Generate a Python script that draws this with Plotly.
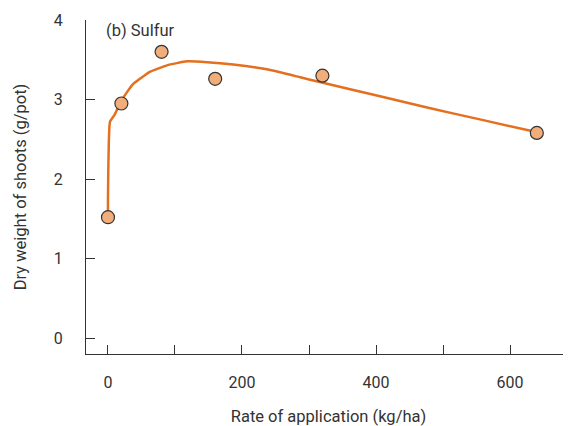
import plotly.graph_objects as go

# Observed data points
rate = [0, 20, 80, 160, 320, 640]
weight = [1.52, 2.95, 3.60, 3.26, 3.30, 2.58]

# Fitted curve
curve_x = [0, 0, 3, 10, 21, 37, 63, 88, 118, 148, 187, 237, 287, 316, 406, 481, 555, 634]
curve_y = [1.55, 1.74, 2.72, 2.81, 3.00, 3.19, 3.35, 3.43, 3.48, 3.47, 3.44, 3.38, 3.28, 3.22, 3.04, 2.89, 2.75, 2.60]

x_tickvals = [0, 100, 200, 300, 400, 500, 600]
x_ticktext = ["0", "", "200", "", "400", "", "600"]
y_tickvals = [0, 1, 2, 3, 4]

font_family = "Roboto, 'Open Sans', sans-serif"

fig = go.Figure()
fig.add_trace(go.Scatter(x=curve_x, y=curve_y, mode="lines",
                         line=dict(color="#E46F1E", width=2.5, shape="spline", smoothing=0.4),
                         hoverinfo="skip", showlegend=False))
fig.add_trace(go.Scatter(x=rate, y=weight, mode="markers",
                         marker=dict(size=13, color="#F2AE7A", line=dict(color="#333333", width=1.2)),
                         showlegend=False))

# page body adds an 8px offset; size the figure so the plot area lands where the reference has it
fig.update_layout(
    width=563, height=418,
    margin=dict(l=78, r=0, t=12, b=72),
    paper_bgcolor="white", plot_bgcolor="white",
    font=dict(family=font_family, size=16.5, color="#333333"),
    xaxis=dict(range=[-32.8, 691], tickvals=x_tickvals, ticktext=x_ticktext,
               ticks="inside", ticklen=9, tickcolor="#333333", tickwidth=1,
               showline=True, linecolor="#333333", linewidth=1.2,
               showgrid=False, zeroline=False, ticklabelstandoff=14,
               title=dict(text="Rate of application (kg/ha)", standoff=20, font=dict(size=16.5)),
               tickfont=dict(size=16)),
    yaxis=dict(range=[-0.2, 4], tickvals=y_tickvals,
               ticks="inside", ticklen=9, tickcolor="#333333", tickwidth=1,
               showline=True, linecolor="#333333", linewidth=1.2,
               showgrid=False, zeroline=False, ticklabelstandoff=19,
               title=dict(text="Dry weight of shoots (g/pot)", standoff=22, font=dict(size=16.5)),
               tickfont=dict(size=16)),
    annotations=[dict(text="(b) Sulfur", xref="paper", yref="paper",
                      x=(104 - 86) / 485, y=1 - (30 - 20) / 334,
                      xanchor="left", yanchor="middle", showarrow=False,
                      font=dict(size=16.5))],
)

fig.write_html("out.html")
